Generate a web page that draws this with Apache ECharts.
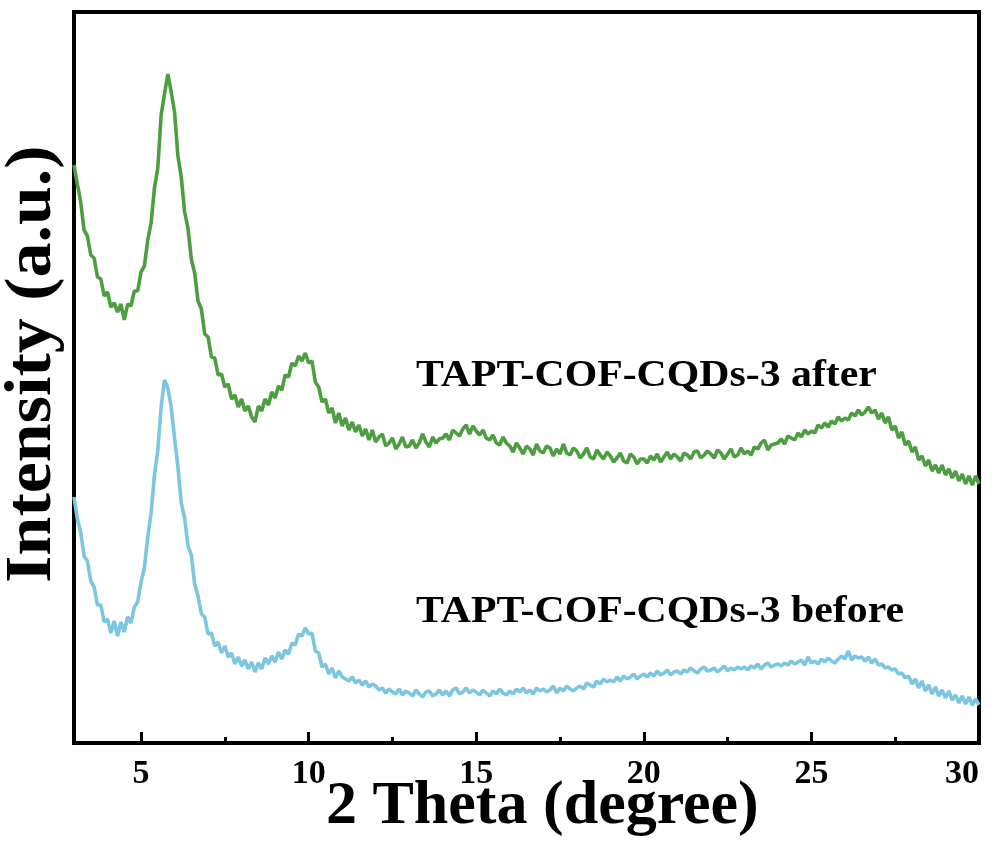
<!DOCTYPE html>
<html>
<head>
<meta charset="utf-8">
<script src="https://cdn.jsdelivr.net/npm/echarts@6/dist/echarts.min.js"></script>
<style>
html,body{margin:0;padding:0;background:#fff;}
#chart{width:1005px;height:845px;}
</style>
</head>
<body>
<div id="chart"></div>
<script>
// 2θ sampling grid (degrees)
const thetaStart = 3.0;
const thetaStep = 0.1;

// Intensity (a.u.), TAPT-COF-CQDs-3 after (green), one value per 0.1° from 3.0° to 30.0°
const afterIntensity = [
578,559,541,513,507,488,485,466,464,447,
451,436,440,431,439,423,439,437,452,452,
471,477,503,520,555,575,628,649,669,651,
631,587,566,531,515,484,470,442,434,409,
406,386,385,368,369,356,359,344,348,336,
344,332,337,326,321,337,332,344,338,351,
345,357,353,368,366,380,377,387,382,390,
380,382,361,356,341,344,330,335,320,330,
317,325,313,321,311,318,307,314,303,313,
301,306,309,297,300,305,294,299,306,296,
297,303,295,300,309,301,296,306,300,304,
305,309,303,313,310,307,314,318,309,317,
312,308,313,305,303,308,300,298,306,300,
297,291,300,295,289,297,294,288,299,292,
290,297,295,287,294,289,299,290,288,295,
292,285,289,295,286,284,293,288,284,291,
287,281,285,290,282,280,289,286,279,284,
284,280,287,283,289,281,286,291,284,289,
286,282,290,288,284,291,292,285,288,292,
289,285,293,290,284,289,294,286,288,295,
289,292,288,296,294,300,303,293,298,299,
300,304,299,307,305,303,310,306,313,309,
312,310,318,315,320,316,322,319,326,322,
325,323,330,327,333,328,331,336,330,333,
324,330,320,326,313,317,305,311,298,302,
291,296,283,287,277,283,272,278,270,278,
268,274,265,272,262,269,259,267,258,267,
259
];

// Intensity (a.u.), TAPT-COF-CQDs-3 before (blue)
const beforeIntensity = [
246,224,211,187,182,162,156,138,138,121,
124,110,122,107,121,111,126,120,136,141,
161,175,206,230,268,293,336,363,355,336,
305,276,240,225,197,188,159,147,129,126,
109,110,97,101,90,97,86,90,79,86,
77,83,74,81,71,80,74,85,79,87,
81,91,84,93,89,100,98,109,107,115,
109,110,92,90,76,79,69,75,65,72,
66,64,62,66,60,63,58,62,56,59,
57,53,55,50,54,51,49,54,48,52,
50,47,53,49,46,51,52,47,49,53,
48,52,47,53,55,49,51,55,50,53,
51,48,53,50,47,52,49,54,50,48,
52,49,54,51,55,50,53,49,55,52,
54,51,53,57,50,55,52,57,54,52,
55,57,54,60,58,56,62,59,64,61,
63,61,66,62,67,64,66,69,64,67,
69,66,70,67,72,68,70,73,68,71,
72,69,73,71,75,72,70,74,76,72,
73,75,71,74,77,72,75,73,76,74,
76,73,77,75,79,74,78,80,76,78,
79,77,80,78,82,79,81,83,78,86,
80,82,79,84,81,85,82,80,84,87,
84,92,83,87,85,86,82,86,80,84,
78,79,75,76,73,74,69,70,65,67,
59,64,55,62,52,58,49,56,47,53,
45,52,43,48,40,47,39,46,38,44,
38
];

const seriesNames = ['TAPT-COF-CQDs-3 after', 'TAPT-COF-CQDs-3 before'];
const xAxisTitle = '2 Theta (degree)';
const yAxisTitle = 'Intensity (a.u.)';

function toPairs(arr) {
  return arr.map((v, i) => [+(thetaStart + i * thetaStep).toFixed(2), v]);
}

const SERIF = '"Liberation Serif", "Times New Roman", serif';
const chart = echarts.init(document.getElementById('chart'), null, {renderer: 'canvas'});
chart.setOption({
  animation: false,
  backgroundColor: '#fff',
  grid: {left: 74, right: 26, top: 12, bottom: 102, show: true, borderColor: '#000', borderWidth: 4, backgroundColor: 'transparent'},
  xAxis: {
    type: 'value', min: 3, max: 30, splitNumber: 5,
    axisLine: {show: true, onZero: false, lineStyle: {color: '#000', width: 4}},
    axisTick: {show: true, inside: true, length: 11, lineStyle: {color: '#000', width: 3}},
    minorTick: {show: true, splitNumber: 2, length: 6, lineStyle: {color: '#000', width: 3}},
    splitLine: {show: false},
    axisLabel: {show: true, showMinLabel: false, showMaxLabel: true, alignMaxLabel: 'right', margin: 14, color: '#000', fontSize: 34, fontWeight: 'bold', fontFamily: SERIF}
  },
  yAxis: {
    type: 'value', min: 0, max: 731,
    axisLine: {show: false}, axisTick: {show: false}, axisLabel: {show: false}, splitLine: {show: false}
  },
  series: [
    {name: seriesNames[0], type: 'line', data: toPairs(afterIntensity), showSymbol: false, lineStyle: {color: '#4c9e40', width: 3.6}, itemStyle: {color: '#4c9e40'}},
    {name: seriesNames[1], type: 'line', data: toPairs(beforeIntensity), showSymbol: false, lineStyle: {color: '#7cc6df', width: 3.6}, itemStyle: {color: '#7cc6df'}}
  ],
  graphic: [
    {type: 'text', left: 326, top: 776, style: {text: xAxisTitle, font: 'bold 62px ' + SERIF, fill: '#000'}},
    {type: 'text', x: 33, y: 364, rotation: Math.PI / 2, style: {text: yAxisTitle, font: 'bold 66px ' + SERIF, fill: '#000', align: 'center', verticalAlign: 'middle'}, scaleX: 1.06},
    {type: 'text', x: 416, y: 376, scaleX: 1.10, style: {text: seriesNames[0], font: 'bold 38px ' + SERIF, fill: '#000', align: 'left', verticalAlign: 'middle'}},
    {type: 'text', x: 416, y: 612, scaleX: 1.10, style: {text: seriesNames[1], font: 'bold 38px ' + SERIF, fill: '#000', align: 'left', verticalAlign: 'middle'}}
  ]
});
</script>
</body>
</html>
